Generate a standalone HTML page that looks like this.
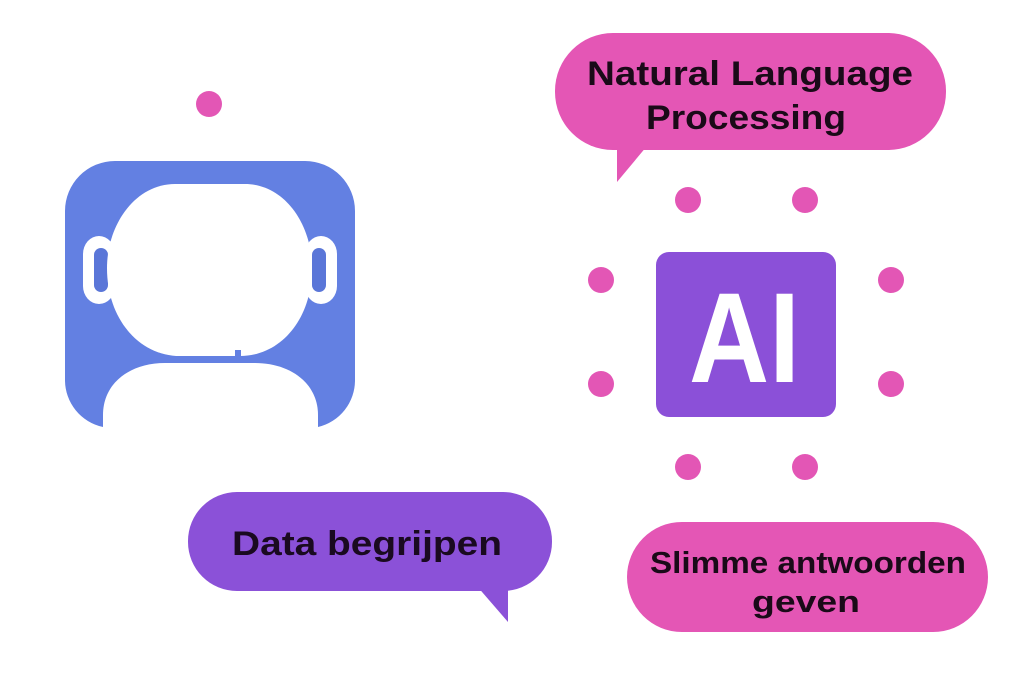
<!DOCTYPE html>
<html><head><meta charset="utf-8"><style>html,body{margin:0;padding:0;background:#fff}svg{display:block}</style></head><body>
<svg width="1024" height="683" viewBox="0 0 1024 683" xmlns="http://www.w3.org/2000/svg" font-family="Liberation Sans, sans-serif">
<rect width="1024" height="683" fill="#fff"/>
<!-- person icon -->
<path d="M115 161 H305 A50 50 0 0 1 355 211 V380 A48 48 0 0 1 318 427 H103 A48 48 0 0 1 65 380 V211 A50 50 0 0 1 115 161 Z" fill="#6380e2"/>
<rect x="83" y="236" width="32" height="68" rx="18" fill="#fff"/>
<rect x="94" y="248" width="14" height="44" rx="7" fill="#5a76d8"/>
<rect x="305" y="236" width="32" height="68" rx="18" fill="#fff"/>
<rect x="312" y="248" width="14" height="44" rx="7" fill="#5a76d8"/>
<path d="M175 184 H245 C285 184 312 225 312 268 C312 320 280 356 240 356 H180 C140 356 107 320 107 268 C107 225 135 184 175 184 Z" fill="#fff"/>
<rect x="235" y="350" width="6" height="14" fill="#6380e2"/>
<path d="M103 427 V415 C103 383 130 363 165 363 H255 C290 363 318 383 318 415 V427 Z" fill="#fff"/>
<!-- dots -->
<g fill="#e356b5">
<circle cx="209" cy="104" r="13"/>
<circle cx="688" cy="200" r="13"/><circle cx="805" cy="200" r="13"/>
<circle cx="601" cy="280" r="13"/><circle cx="891" cy="280" r="13"/>
<circle cx="601" cy="384" r="13"/><circle cx="891" cy="384" r="13"/>
<circle cx="688" cy="467" r="13"/><circle cx="805" cy="467" r="13"/>
</g>
<!-- AI -->
<rect x="656" y="252" width="180" height="165" rx="13" fill="#8b50d8"/>
<text x="689" y="382" font-size="128" font-weight="bold" fill="#fff" textLength="111" lengthAdjust="spacingAndGlyphs">AI</text>
<!-- NLP bubble -->
<rect x="555" y="33" width="391" height="117" rx="58" fill="#e456b5"/>
<path d="M617 140 H652 L617 182 Z" fill="#e456b5"/>
<text x="750" y="85" font-size="34" font-weight="bold" fill="#1a0a18" text-anchor="middle" textLength="326" lengthAdjust="spacingAndGlyphs">Natural Language</text>
<text x="746" y="129" font-size="34" font-weight="bold" fill="#1a0a18" text-anchor="middle" textLength="200" lengthAdjust="spacingAndGlyphs">Processing</text>
<!-- Data bubble -->
<rect x="188" y="492" width="364" height="99" rx="49" fill="#8b51d8"/>
<path d="M476 585 H508 V622 Z" fill="#8b51d8"/>
<text x="367" y="555" font-size="34" font-weight="bold" fill="#1a0a20" text-anchor="middle" textLength="270" lengthAdjust="spacingAndGlyphs">Data begrijpen</text>
<!-- Slimme bubble -->
<rect x="627" y="522" width="361" height="110" rx="55" fill="#e456b5"/>
<text x="808" y="573" font-size="31" font-weight="bold" fill="#1a0a18" text-anchor="middle" textLength="316" lengthAdjust="spacingAndGlyphs">Slimme antwoorden</text>
<text x="806" y="612" font-size="31" font-weight="bold" fill="#1a0a18" text-anchor="middle" textLength="108" lengthAdjust="spacingAndGlyphs">geven</text>
</svg>
</body></html>
